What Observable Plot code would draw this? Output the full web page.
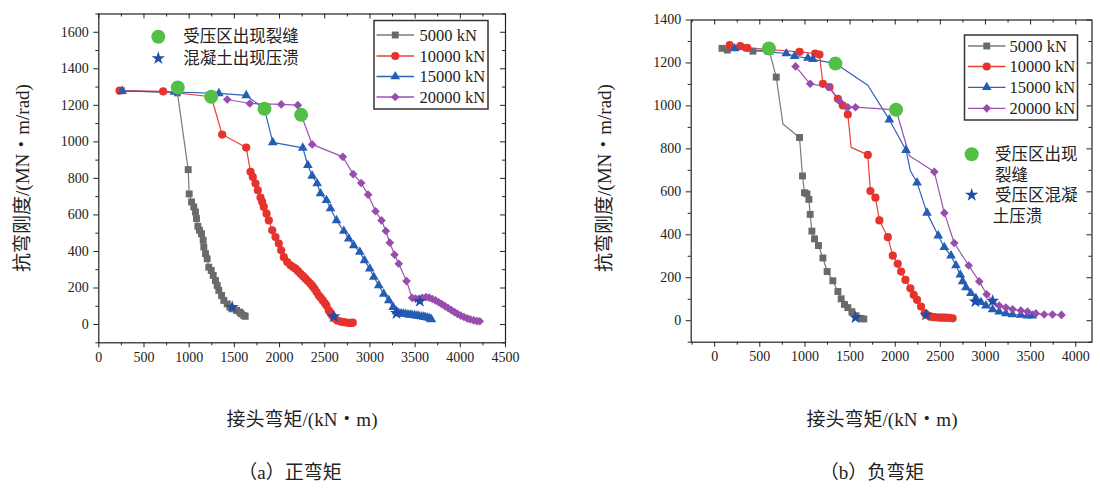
<!DOCTYPE html>
<html><head><meta charset="utf-8">
<script src="https://cdn.jsdelivr.net/npm/d3@7"></script>
<script src="https://cdn.jsdelivr.net/npm/@observablehq/plot@0.6"></script>
<style>
html,body{margin:0;background:#fff;}
#wrap{position:relative;width:1100px;height:489px;overflow:hidden;font-family:"Liberation Serif","Noto Sans CJK SC",serif;color:#222;}
.abs{position:absolute;white-space:nowrap;}
.ctr{transform:translate(-50%,-50%);}
.rot{transform:translate(-50%,-50%) rotate(-90deg);}
svg.ov{position:absolute;left:0;top:0;overflow:visible;}
#wrap svg text{font-family:"Liberation Serif","Noto Sans CJK SC",serif !important;}
</style></head><body><div id="wrap"></div>
<script>
// ---------------- DATA ----------------
const seriesNames = ["5000 kN", "10000 kN", "15000 kN", "20000 kN"];
const eventNamesLeft = ["受压区出现裂缝", "混凝土出现压溃"];
const eventNamesRight = [["受压区出现", "裂缝"], ["受压区混凝", "土压溃"]];
const xTitle = "接头弯矩/(kN・m)";
const yTitle = "抗弯刚度/(MN・m/rad)";
const captions = ["（a）正弯矩", "（b）负弯矩"];

// (a) positive moment
const xTicksA = [0, 500, 1000, 1500, 2000, 2500, 3000, 3500, 4000, 4500];
const yTicksA = [0, 200, 400, 600, 800, 1000, 1200, 1400, 1600];
const A5000M = [250, 870, 989, 1000, 1026, 1051, 1070, 1081, 1096, 1114, 1136, 1155, 1162, 1181, 1199, 1217, 1244, 1266, 1291, 1310, 1328, 1358, 1383, 1421, 1450, 1487, 1524, 1560, 1576, 1605, 1620];
const A5000K = [1280, 1268, 848, 715, 671, 644, 616, 580, 538, 516, 497, 461, 424, 388, 360, 314, 296, 269, 241, 214, 187, 159, 132, 113, 95, 86, 77, 68, 59, 49, 45];
const A10000M = [230, 712, 1244, 1365, 1631, 1679, 1704, 1734, 1759, 1789, 1808, 1826, 1856, 1881, 1919, 1955, 1992, 2018, 2047, 2085, 2121, 2150, 2176, 2205, 2232, 2260, 2287, 2315, 2342, 2365, 2387, 2410, 2434, 2456, 2478, 2500, 2519, 2545, 2565, 2582, 2610, 2638, 2675, 2711, 2740, 2766, 2795, 2810];
const A10000K = [1280, 1276, 1247, 1040, 969, 836, 808, 772, 735, 695, 671, 644, 607, 570, 516, 479, 443, 406, 369, 342, 324, 315, 306, 292, 278, 265, 251, 237, 223, 210, 196, 178, 159, 146, 132, 118, 104, 77, 62, 49, 33, 22, 16, 13, 11, 9, 9, 10];
const A15000M = [259, 838, 1328, 1631, 1833, 1925, 2257, 2313, 2361, 2416, 2453, 2519, 2564, 2630, 2711, 2766, 2821, 2888, 2940, 2998, 3043, 3098, 3153, 3209, 3257, 3294, 3319, 3345, 3370, 3393, 3420, 3445, 3467, 3495, 3520, 3541, 3570, 3595, 3615, 3640, 3662, 3680];
const A15000K = [1278, 1273, 1265, 1254, 1181, 997, 967, 872, 814, 772, 717, 680, 635, 570, 512, 470, 433, 397, 351, 306, 260, 214, 168, 132, 95, 72, 62, 60, 58, 57, 55, 53, 52, 50, 48, 46, 44, 42, 40, 37, 33, 28];
const A20000M = [1421, 1671, 2018, 2202, 2239, 2361, 2700, 2815, 2903, 2980, 3062, 3128, 3176, 3220, 3272, 3319, 3405, 3467, 3505, 3540, 3580, 3620, 3655, 3690, 3725, 3760, 3795, 3830, 3865, 3900, 3935, 3970, 4005, 4040, 4076, 4110, 4149, 4185, 4215];
const A20000K = [1232, 1210, 1205, 1201, 1148, 986, 918, 823, 775, 711, 620, 570, 512, 448, 382, 333, 238, 146, 142, 140, 146, 150, 147, 140, 132, 122, 112, 101, 90, 79, 68, 58, 49, 41, 34, 28, 23, 19, 18];
const A5000Bend = [], A10000Bend = [], A15000Bend = [], A20000Bend = [];
const crackA = [[874, 1298], [1244, 1247], [1833, 1181], [2239, 1148]];
const crushA = [[1476, 95], [2600, 44], [3294, 62], [3552, 128]];

// (b) negative moment
const xTicksB = [0, 500, 1000, 1500, 2000, 2500, 3000, 3500, 4000];
const yTicksB = [0, 200, 400, 600, 800, 1000, 1200, 1400];
const B5000M = [81, 140, 351, 424, 601, 682, 756, 940, 973, 995, 1022, 1044, 1058, 1077, 1106, 1150, 1199, 1246, 1309, 1365, 1401, 1438, 1475, 1520, 1567, 1622, 1652];
const B5000K = [1268, 1260, 1270, 1255, 1262, 1134, 916, 853, 674, 596, 591, 565, 495, 417, 381, 350, 292, 229, 186, 136, 102, 76, 61, 42, 23, 11, 8];
const B10000M = [166, 284, 361, 940, 1114, 1161, 1199, 1272, 1365, 1420, 1475, 1512, 1696, 1725, 1781, 1825, 1918, 1973, 2028, 2065, 2113, 2168, 2205, 2242, 2286, 2330, 2360, 2389, 2420, 2452, 2480, 2507, 2535, 2563, 2600, 2636];
const B10000K = [1283, 1278, 1270, 1252, 1244, 1239, 1103, 1088, 1033, 1002, 960, 807, 772, 604, 573, 467, 389, 303, 265, 229, 190, 151, 120, 97, 66, 34, 25, 19, 17, 16, 15, 14, 14, 14, 13, 11];
const B15000M = [221, 601, 793, 885, 1033, 1088, 1338, 1696, 1935, 2120, 2168, 2242, 2352, 2477, 2544, 2618, 2673, 2721, 2747, 2784, 2839, 2894, 2950, 3005, 3079, 3152, 3226, 3300, 3392, 3466, 3520];
const B15000K = [1267, 1252, 1244, 1231, 1223, 1217, 1197, 1096, 936, 794, 698, 643, 502, 396, 342, 303, 257, 214, 183, 155, 128, 104, 86, 70, 53, 42, 34, 29, 27, 23, 23];
const B20000M = [896, 1058, 1265, 1383, 1475, 1560, 2009, 2157, 2433, 2544, 2654, 2814, 2931, 3013, 3079, 3152, 3226, 3300, 3392, 3466, 3558, 3650, 3742, 3842];
const B20000K = [1184, 1103, 1088, 1022, 994, 994, 982, 768, 693, 502, 362, 257, 183, 123, 92, 70, 61, 53, 47, 42, 34, 29, 29, 27];
const B5000Bend = [756], B10000Bend = [1512], B15000Bend = [1696, 2168], B20000Bend = [2157];
const crackB = [[601, 1267], [1338, 1197], [2009, 982]];
const crushB = [[1560, 15], [2341, 27], [2887, 89], [3079, 92]];

// ---------------- STYLE ----------------
const lineColors = ["#7a7a7a", "#e8403a", "#2d62b8", "#9b52b3"];
const markColors = ["#6a6a6a", "#e6332e", "#245db5", "#984cae"];
const symbols = ["square", "circle", "triangle", "diamond2"];
const markR = [3.9, 4.1, 3.6, 3.9];
const green = "#52c046", starBlue = "#1f4ea8";
const FONT = "'Liberation Serif','Noto Sans CJK SC',serif";

function rows(Ms, Ks, bends) {
  return seriesNames.map((s, i) => Ms[i].map((m, j) => ({series: s, idx: i, M: m, K: Ks[i][j], bend: bends[i].includes(m)})));
}
const dataA = rows([A5000M, A10000M, A15000M, A20000M], [A5000K, A10000K, A15000K, A20000K], [A5000Bend, A10000Bend, A15000Bend, A20000Bend]);
const dataB = rows([B5000M, B10000M, B15000M, B20000M], [B5000K, B10000K, B15000K, B20000K], [B5000Bend, B10000Bend, B15000Bend, B20000Bend]);

function minors(majors, step, lo, hi) {
  const out = [];
  for (let v = Math.ceil(lo / step) * step; v <= hi; v += step) if (!majors.includes(v)) out.push(v);
  return out;
}

function panel(o) {
  const xMin = minors(o.xTicks, o.xStep, o.xDomain[0], o.xDomain[1]);
  const yMin = minors(o.yTicks, o.yStep, o.yDomain[0], o.yDomain[1]);
  const tx = {fontSize: 14, fill: "#222", fontFamily: FONT};
  const marks = [
    Plot.axisX(o.xTicks, {tickSize: 5, tickPadding: 4, label: null, tickFormat: d => String(d), ...tx}),
    Plot.axisX(xMin, {tickSize: 3, text: null, label: null}),
    Plot.axisX(o.xTicks, {anchor: "bottom", frameAnchor: "top", tickSize: 5, text: null, label: null}),
    Plot.axisX(xMin, {anchor: "bottom", frameAnchor: "top", tickSize: 3, text: null, label: null}),
    Plot.axisY(o.yTicks, {tickSize: 5, tickPadding: 5, label: null, tickFormat: d => String(d), ...tx}),
    Plot.axisY(yMin, {tickSize: 3, text: null, label: null}),
    Plot.axisY(o.yTicks, {anchor: "left", frameAnchor: "right", tickSize: 5, text: null, label: null}),
    Plot.axisY(yMin, {anchor: "left", frameAnchor: "right", tickSize: 3, text: null, label: null}),
    Plot.frame({stroke: "#222", strokeWidth: 1.2})
  ];
  o.data.forEach((ser, i) => {
    marks.push(Plot.line(ser, {x: "M", y: "K", stroke: lineColors[i], strokeWidth: 1.2}));
  });
  o.data.forEach((ser, i) => {
    marks.push(Plot.dot(ser.filter(d => !d.bend), {x: "M", y: "K", symbol: symbols[i], fill: markColors[i], r: markR[i]}));
  });
  marks.push(Plot.dot(o.crack, {x: d => d[0], y: d => d[1], fill: green, r: 7}));
  marks.push(Plot.dot(o.crush, {x: d => d[0], y: d => d[1], symbol: "star", fill: starBlue, r: 4.2}));
  const p = Plot.plot({
    width: o.width, height: o.height,
    marginLeft: o.ml, marginRight: o.mr, marginTop: o.mt, marginBottom: o.mb,
    x: {domain: o.xDomain}, y: {domain: o.yDomain},
    style: `font-family: ${FONT}; font-size: 14px; color: #222; background: transparent; overflow: visible;`,
    marks
  });
  p.style.position = "absolute";
  p.style.left = o.left + "px";
  p.style.top = "0px";
  return p;
}

const wrap = document.getElementById("wrap");
wrap.appendChild(panel({data: dataA, crack: crackA, crush: crushA, xTicks: xTicksA, yTicks: yTicksA, xStep: 250, yStep: 100,
  xDomain: [0, 4500], yDomain: [-100, 1700], width: 550, height: 370, ml: 98.3, mr: 45, mt: 13.5, mb: 27.7, left: 0}));
wrap.appendChild(panel({data: dataB, crack: crackB, crush: crushB, xTicks: xTicksB, yTicks: yTicksB, xStep: 250, yStep: 100,
  xDomain: [-260, 4180], yDomain: [-100, 1400], width: 550, height: 370, ml: 140.7, mr: 8.5, mt: 19.5, mb: 28.3, left: 550}));

// ---------------- TEXT ----------------
function addText(txt, x, y, cls, size) {
  const d = document.createElement("div");
  d.className = "abs " + cls;
  d.style.left = x + "px"; d.style.top = y + "px";
  d.style.fontSize = size + "px";
  d.textContent = txt;
  wrap.appendChild(d);
  return d;
}
addText(xTitle, 302, 417, "ctr", 19);
addText(xTitle, 882, 417, "ctr", 19);
addText(captions[0], 290, 470, "ctr", 19);
addText(captions[1], 872, 470, "ctr", 19);
addText(yTitle, 20, 178, "rot", 19);
addText(yTitle, 602, 178, "rot", 19);

// ---------------- LEGENDS ----------------
const ov = d3.select(wrap).append("svg").attr("class", "ov").attr("width", 1100).attr("height", 489);
function sym(type, r, x, y, fill) {
  const t = {square: d3.symbolSquare, circle: d3.symbolCircle, triangle: d3.symbolTriangle, diamond2: d3.symbolDiamond2, star: d3.symbolStar}[type];
  ov.append("path").attr("d", d3.symbol(t, Math.PI * r * r)()).attr("transform", `translate(${x},${y})`).attr("fill", fill);
}
function label(txt, x, y, size) {
  ov.append("text").attr("x", x).attr("y", y).attr("dy", "0.35em").attr("font-family", FONT).attr("font-size", size).attr("fill", "#222").text(txt);
}
function seriesLegend(bx, by, bw, bh, rowsY, lx0, lx1, tx) {
  ov.append("rect").attr("x", bx).attr("y", by).attr("width", bw).attr("height", bh).attr("fill", "#fff").attr("stroke", "#333").attr("stroke-width", 1.5);
  seriesNames.forEach((s, i) => {
    ov.append("line").attr("x1", lx0).attr("x2", lx1).attr("y1", rowsY[i]).attr("y2", rowsY[i]).attr("stroke", lineColors[i]).attr("stroke-width", 1.3);
    sym(symbols[i], markR[i], (lx0 + lx1) / 2, rowsY[i], markColors[i]);
    label(s, tx, rowsY[i], 16.5);
  });
}
seriesLegend(374, 20.5, 114, 88.5, [35, 56, 76.5, 97], 376.5, 414, 419.5);
seriesLegend(964.5, 35, 113, 85, [46, 66.5, 87.3, 108.3], 968, 1005.5, 1009.5);

sym("circle", 7, 158.3, 36.7, green);
label(eventNamesLeft[0], 183.3, 36.7, 16.5);
sym("star", 4.2, 158.3, 58.3, starBlue);
label(eventNamesLeft[1], 183.3, 58.3, 16.5);

sym("circle", 7, 971.7, 154.3, green);
label(eventNamesRight[0][0], 995, 154.3, 16.5);
label(eventNamesRight[0][1], 995, 175.3, 16.5);
sym("star", 4.2, 971.7, 195, starBlue);
label(eventNamesRight[1][0], 995, 195, 16.5);
label(eventNamesRight[1][1], 992.7, 216.5, 16.5);
</script></body></html>
